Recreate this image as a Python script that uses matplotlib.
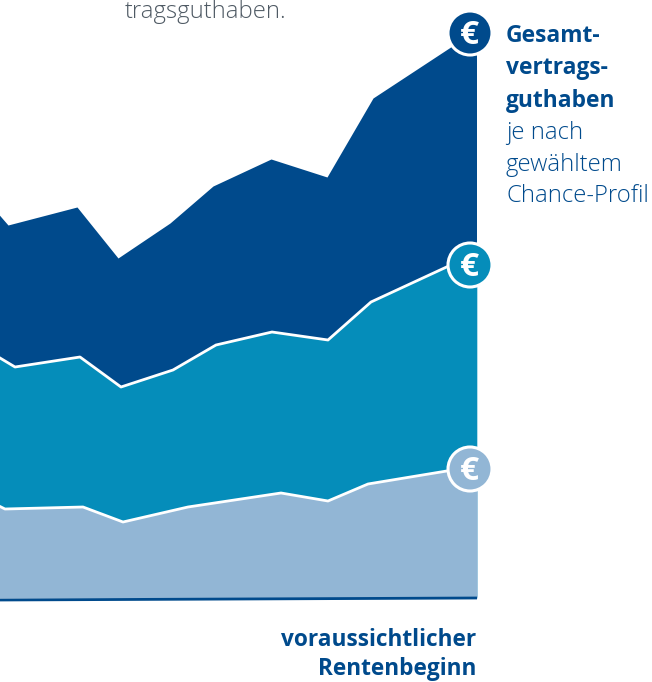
import matplotlib
matplotlib.use("Agg")
from matplotlib import pyplot as plt
from matplotlib.patches import Circle

# values, in picture pixels (y grows downwards)
top_x = [-5, 8, 77, 118, 170, 213, 271, 327, 373, 476.5]
top_y = [210, 225, 207, 258, 223, 186, 159, 177, 98, 30]
mid_x = [-5, 15, 80, 121, 173, 216, 272, 328, 371, 476.8]
mid_y = [355, 367, 357, 387, 370, 345, 332, 340, 302, 253]
low_x = [-5, 5, 83, 123, 188, 281, 328, 368, 477]
low_y = [504, 509, 507, 522, 507, 493, 501, 484, 466]
base_x = [0, 477]
base_y = [600, 598]

badge_y = [33, 265, 469]
badge_x = 470

DARK = "#004a8c"
MID = "#058dba"
LIGHT = "#92b6d5"
GREY = "#4f5a64"

plt.rcParams["font.family"] = ["Open Sans", "DejaVu Sans"]

fig = plt.figure(figsize=(6.52, 6.82), dpi=100)
ax = fig.add_axes([0, 0, 1, 1])
ax.set_xlim(0, 652)
ax.set_ylim(682, 0)
ax.axis("off")

# stacked areas, back to front
ax.fill_between(top_x, top_y, 597, color=DARK, lw=0, zorder=1)
ax.fill_between(mid_x, mid_y, 597, color=MID, lw=0, zorder=2)
ax.plot(mid_x, mid_y, color="white", lw=2, zorder=3)
ax.fill_between(low_x, low_y, 598, color=LIGHT, lw=0, zorder=4)
ax.plot(low_x, low_y, color="white", lw=2, zorder=5)
ax.plot(base_x, base_y, color=DARK, lw=2, solid_capstyle="butt", zorder=6)

for y, col in zip(badge_y, [DARK, MID, LIGHT]):
    ax.add_patch(Circle((badge_x, y), 22, fc=col, ec="white", lw=2.2, zorder=7))
    ax.text(badge_x - 1, y + 2, "€", color="white", fontsize=24, fontweight="bold",
            ha="center", va="center", zorder=8)

ax.text(125, 18, "tragsguthaben.", color=GREY, fontsize=17.2, fontweight="light",
        ha="left", va="baseline")

for y, txt in zip([36, 68, 101], ["Gesamt-", "vertrags-", "guthaben"]):
    ax.text(506, y, txt, color=DARK, fontsize=16.4, fontweight="bold", ha="left", va="center")
for y, txt in zip([133, 165, 196], ["je nach", "gewähltem", "Chance-Profil"]):
    ax.text(506, y, txt, color=DARK, fontsize=17.2, fontweight="light", ha="left", va="center")

ax.text(476, 646, "voraussichtlicher", color=DARK, fontsize=16.3, fontweight="bold",
        ha="right", va="baseline")
ax.text(476, 675, "Rentenbeginn", color=DARK, fontsize=16.3, fontweight="bold",
        ha="right", va="baseline")

fig.savefig("out.png", dpi=100)
